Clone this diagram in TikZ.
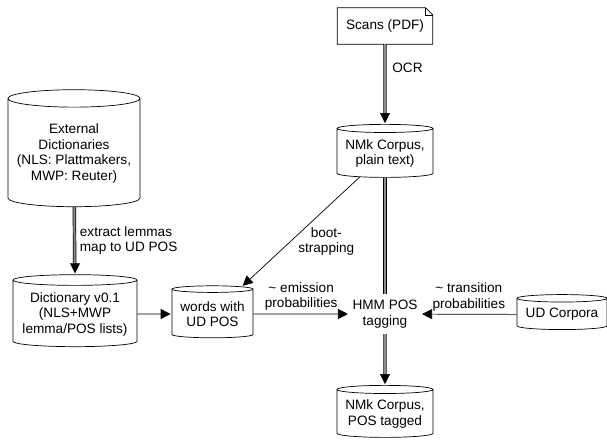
\documentclass[tikz,border=0pt]{standalone}
\usepackage{fontspec}
\setmainfont{Liberation Sans}
\usetikzlibrary{arrows.meta,shapes.geometric,calc}

\begin{document}
\begin{tikzpicture}[x=1pt,y=-1pt,>=Triangle,
 every node/.style={font=\fontsize{13.6}{15.5}\selectfont},
 db/.style={cylinder,shape border rotate=90,draw,line width=.7pt,aspect=.1,align=center,inner sep=1pt},
 doc/.style={align=center,minimum width=95pt,minimum height=36pt,inner sep=0pt},
 flow/.style={line width=.7pt,shorten >=1pt,-{Triangle[length=10pt,width=10pt]}},
 dbl/.style={line width=.7pt,double=black!45,double distance=2pt},
 dblarrow/.style={dbl,shorten >=10pt},
 lbl/.style={align=center,inner sep=1pt}]
\useasboundingbox (0,0) rectangle (607,441);
\node[doc] (scans) at (385,26) {Scans (PDF)};
\draw[line width=.7pt] (scans.north west)--($(scans.north east)+(-7,0)$)--($(scans.north east)+(0,7)$)--(scans.south east)--(scans.south west)--cycle;
\draw[line width=.5pt] ($(scans.north east)+(-7,0)$)--($(scans.north east)+(-7,7)$)--($(scans.north east)+(0,7)$);
\node[db,minimum width=96pt,minimum height=53pt] (plain) at (385,153.5) {NMk Corpus,\\plain text)};
\node[align=center,minimum height=40pt] (hmm) at (385,314) {HMM POS\\tagging};
\node[db,minimum width=96pt,minimum height=52pt] (tagged) at (385,414) {NMk Corpus,\\POS tagged};
\node[db,minimum width=90pt,minimum height=35pt] (udc) at (562,314.5) {UD Corpora};
\node[db,minimum width=81pt,minimum height=52pt] (words) at (212.5,314) {words with\\UD POS};
\node[db,minimum width=124pt,minimum height=72pt] (dict) at (75,314) {Dictionary v0.1\\(NLS+MWP\\lemma/POS lists)};
\node[db,aspect=.15,minimum width=132pt,minimum height=117pt] (ext) at (74,153.5) {External\\Dictionaries\\(NLS: Plattmakers,\\MWP: Reuter)};
% double-line flows, tip drawn on its own
\draw[dblarrow] (scans)--(plain) node[lbl,pos=.3,right=6pt] {OCR};
\draw[flow] ($(plain.north)+(0,-11)$)--(plain.north);
\draw[dbl] (plain)--(hmm);
\draw[dblarrow] (hmm)--(tagged);
\draw[flow] ($(tagged.north)+(0,-11)$)--(tagged.north);
\draw[dblarrow] (ext)--(dict) node[lbl,midway,right=4pt,align=left] {extract lemmas\\map to UD POS};
\draw[flow] ($(dict.north)+(0,-11)$)--(dict.north);
% single flows
\draw[flow] (dict)--(words);
\draw[flow] (words)--(hmm) node[lbl,midway,above=2pt] {\textasciitilde{} emission\\probabilities};
\draw[flow] (udc)--(hmm) node[lbl,midway,above=2pt] {\textasciitilde{} transition\\probabilities};
\draw[flow] (plain)--(words) node[lbl,pos=.55,right=2pt,yshift=-4pt] {boot-\\strapping};
\end{tikzpicture}
\end{document}
